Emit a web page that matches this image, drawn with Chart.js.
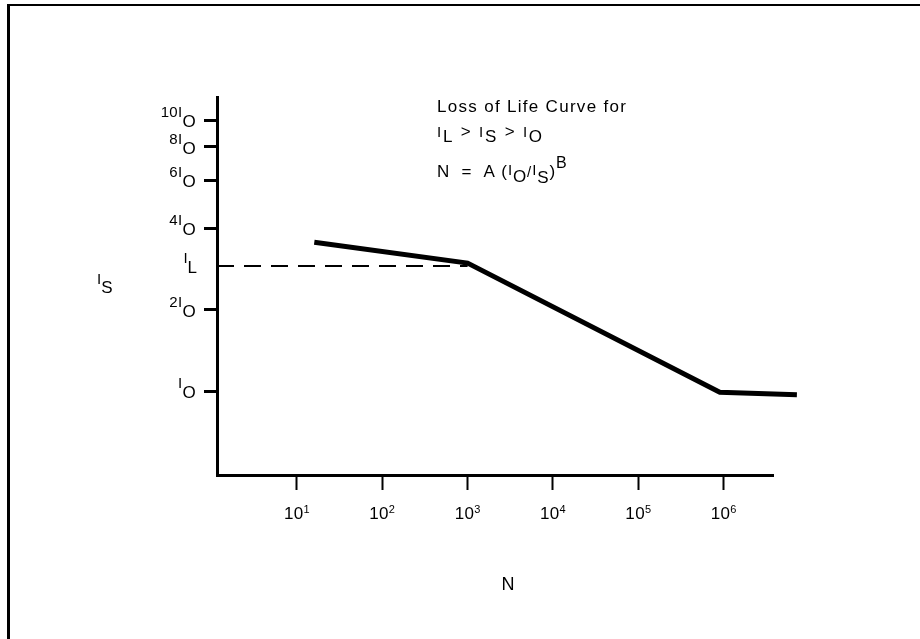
<!DOCTYPE html>
<html>
<head>
<meta charset="utf-8">
<script src="https://cdn.jsdelivr.net/npm/chart.js@4"></script>
<style>
  html, body { margin: 0; padding: 0; background: #fff; overflow: hidden; }
  #wrap { position: relative; width: 920px; height: 639px; }
  #frame { position: absolute; left: 7px; top: 4px; width: 910px; height: 700px;
           border-top: 2px solid #000; border-left: 3px solid #000; border-right: 1px solid #888; }
  canvas { position: absolute; left: 0; top: 0; }
</style>
</head>
<body>
<div id="wrap">
  <div id="frame"></div>
  <canvas id="chartVida" width="920" height="639"></canvas>
</div>
<script>
// curva de perdida de vida (N en ciclos, I en multiplos de Io)
const curvaN = [16, 1000, 9e5, 7.2e6];
const curvaI = [3.55, 2.97, 0.99, 0.97];

// linea punteada I_L
const limiteN = [1.16, 1000];
const limiteI = [2.9, 2.9];

const ticksX = [10, 100, 1e3, 1e4, 1e5, 1e6];
const expX = ["1", "2", "3", "4", "5", "6"];
const ticksY = [1, 2, 4, 6, 8, 10];
const prefY = ["I", "2I", "4I", "6I", "8I", "10I"];

const FUENTE = '"Liberation Sans", Arial, Helvetica, sans-serif';

// dibuja texto con sub/superindices: [texto, dy, tamaño]
function textoRico(ctx, partes, x, y, align, esp) {
    ctx.letterSpacing = (esp || 0) + "px";
    let ancho = 0;
    partes.forEach(p => {
        ctx.font = (p[2] || 16) + "px " + FUENTE;
        ancho += ctx.measureText(p[0]).width;
    });
    let cx = x;
    if (align === "right") cx = x - ancho;
    if (align === "center") cx = x - ancho / 2;
    partes.forEach(p => {
        ctx.font = (p[2] || 16) + "px " + FUENTE;
        ctx.fillText(p[0], cx, y + p[1]);
        cx += ctx.measureText(p[0]).width;
    });
    ctx.letterSpacing = "0px";
}

const etiquetas = {
    id: "etiquetas",
    afterDraw(chart) {
        const ctx = chart.ctx;
        const sx = chart.scales.x;
        const sy = chart.scales.y;
        ctx.save();
        ctx.fillStyle = "#000";
        ctx.textBaseline = "alphabetic";
        ctx.textAlign = "left";

        // etiquetas eje Y
        ticksY.forEach((v, i) => {
            const py = sy.getPixelForValue(v);
            textoRico(ctx, [[prefY[i], -3, 15], ["O", 7, 17]], 196, py, "right", 0.3);
        });
        const pl = sy.getPixelForValue(limiteI[0]);
        textoRico(ctx, [["I", -3, 15], ["L", 7, 17]], 197, pl, "right");

        // titulo eje Y
        textoRico(ctx, [["I", -9, 15], ["S", 0, 17]], 97, 293, "left");

        // etiquetas eje X
        ticksX.forEach((v, i) => {
            const px = sx.getPixelForValue(v);
            textoRico(ctx, [["10", 0, 17], [expX[i], -6, 11]], px, 519, "center", 0.3);
        });
        textoRico(ctx, [["N", 0, 18]], 508, 590, "center");

        // anotacion
        textoRico(ctx, [["Loss of Life Curve for", 0, 17]], 437, 112, "left", 1.3);
        textoRico(ctx, [["I", -5, 15], ["L", 0, 17], [" > ", -5, 17], ["I", -5, 15], ["S", 0, 17],
                        [" > ", -5, 17], ["I", -5, 15], ["O", 0, 17]], 437, 142, "left", 1.8);
        textoRico(ctx, [["N  =  A (", 0, 17], ["I", -2, 15], ["O", 5, 17], ["/", 0, 15],
                        ["I", -2, 15], ["S", 6, 17], [")", 0, 17], ["B", -9, 16]], 437, 177, "left", 0.9);
        ctx.restore();
    }
};

const ctx = document.getElementById("chartVida").getContext("2d");

new Chart(ctx, {
    type: "line",
    data: {
        datasets: [
            {
                data: curvaN.map((n, i) => ({ x: n, y: curvaI[i] })),
                borderColor: "#000",
                borderWidth: 5,
                pointRadius: 0,
                clip: false,
                tension: 0
            },
            {
                data: limiteN.map((n, i) => ({ x: n, y: limiteI[i] })),
                borderColor: "#000",
                borderWidth: 2,
                borderDash: [17, 10],
                pointRadius: 0,
                clip: false
            }
        ]
    },
    options: {
        responsive: false,
        animation: false,
        devicePixelRatio: 1,
        layout: { padding: { left: 187, top: 97, right: 147, bottom: 124 } },
        plugins: { legend: { display: false }, tooltip: { enabled: false } },
        scales: {
            x: {
                type: "logarithmic",
                min: 1.16,
                max: 3.78e6,
                afterBuildTicks: s => { s.ticks = ticksX.map(v => ({ value: v })); },
                afterFit: s => { s.height = 40; },
                ticks: { display: false },
                grid: { drawOnChartArea: false, drawTicks: true, tickLength: 15,
                        tickWidth: 2, tickColor: "#000" },
                border: { display: true, color: "#000", width: 3 }
            },
            y: {
                type: "logarithmic",
                min: 0.49,
                max: 12.2,
                afterBuildTicks: s => { s.ticks = ticksY.map(v => ({ value: v })); },
                afterFit: s => { s.width = 30; },
                ticks: { display: false },
                grid: { drawOnChartArea: false, drawTicks: true, tickLength: 13,
                        tickWidth: 3, tickColor: "#000" },
                border: { display: true, color: "#000", width: 3 }
            }
        }
    },
    plugins: [etiquetas]
});
</script>
</body>
</html>
